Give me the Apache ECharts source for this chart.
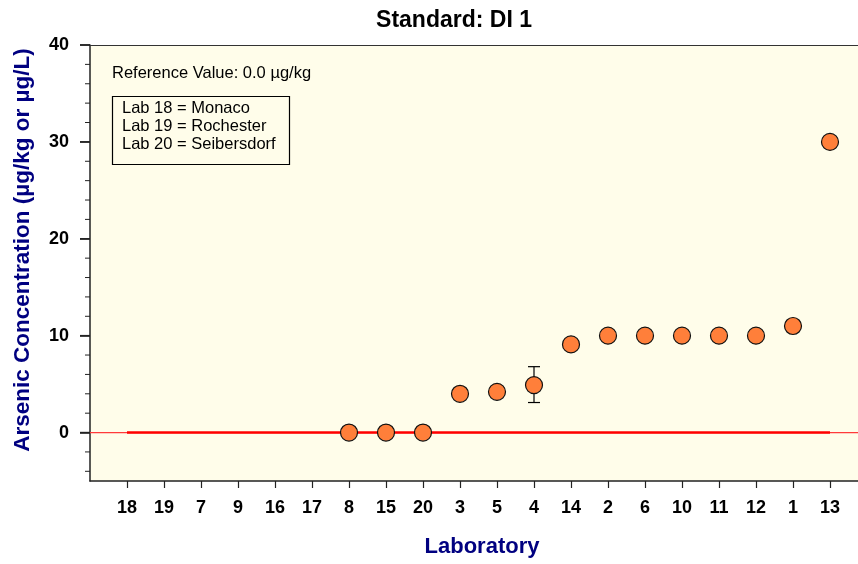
<!DOCTYPE html>
<html><head><meta charset="utf-8">
<script src="https://cdn.jsdelivr.net/npm/echarts@6/dist/echarts.min.js"></script>
<style>html,body{margin:0;padding:0;background:#fff}#c{width:858px;height:564px}</style>
</head><body><div id="c"></div>
<script>
const labs = ['18','19','7','9','16','17','8','15','20','3','5','4','14','2','6','10','11','12','1','13'];
const values = [null,null,null,null,null,null,0,0,0,4.0,4.2,4.9,9.1,10,10,10,10,10,11,30];
const errLow = [null,null,null,null,null,null,null,null,null,null,null,3.1,null,null,null,null,null,null,null,null];
const errHigh = [null,null,null,null,null,null,null,null,null,null,null,6.8,null,null,null,null,null,null,null,null];
const referenceValue = 0;
const yTicks = [0,10,20,30,40];
const yMinorTicks = [-4,-2,2,4,6,8,12,14,16,18,22,24,26,28,32,34,36,38];
const notes = ['Lab 18 = Monaco','Lab 19 = Rochester','Lab 20 = Seibersdorf'];

const pos = labs.map((_, i) => i + 1);
const points = [];
values.forEach((v, i) => { if (v !== null) points.push([pos[i], v]); });
const errs = [];
errLow.forEach((lo, i) => { if (lo !== null) errs.push([pos[i], lo, errHigh[i]]); });
const tickData = yTicks.map(v => [0, v, 10]).concat(yMinorTicks.map(v => [0, v, 5]));

const font = 'Liberation Sans, Arial, sans-serif';
const xMax = 768 / 37;
const chart = echarts.init(document.getElementById('c'));
chart.setOption({
  animation: false,
  backgroundColor: '#ffffff',
  title: { text: 'Standard: DI 1', left: 449, top: 4, textAlign: 'center',
    textStyle: { fontFamily: font, fontSize: 23, fontWeight: 'bold', color: '#000' } },
  grid: { left: 90, right: 0, top: 45, bottom: 83, show: true, backgroundColor: '#FFFDEA', borderWidth: 0 },
  xAxis: [{
    type: 'value', min: 0, max: xMax, interval: 1,
    axisLine: { onZero: false, lineStyle: { color: '#222', width: 1.5 } },
    axisTick: { show: true, length: 7, customValues: pos, lineStyle: { color: '#222', width: 1.2 } },
    axisLabel: { customValues: pos, margin: 18, fontFamily: font, fontSize: 18, fontWeight: 'bold', color: '#000',
      formatter: v => labs[Math.round(v) - 1] || '' },
    splitLine: { show: false },
    name: 'Laboratory', nameLocation: 'middle', nameGap: 55,
    nameTextStyle: { fontFamily: font, fontSize: 22, fontWeight: 'bold', color: '#000080', padding: [0, 0, 0, 16] }
  }, {
    type: 'value', position: 'top', min: 0, max: xMax,
    axisLine: { show: true, onZero: false, lineStyle: { color: '#333', width: 1.2 } },
    axisTick: { show: false }, axisLabel: { show: false }, splitLine: { show: false }
  }],
  yAxis: {
    type: 'value', min: -5, max: 40, position: 'left',
    axisLine: { show: true, onZero: false, lineStyle: { color: '#222', width: 1.5 } },
    axisTick: { show: true, length: 10, customValues: yTicks, lineStyle: { color: '#222', width: 1.5 } },
    axisLabel: { customValues: yTicks, margin: 21, fontFamily: font, fontSize: 18, fontWeight: 'bold', color: '#000' },
    splitLine: { show: false }
  },
  series: [
    { type: 'line', data: [[0, referenceValue], [xMax, referenceValue]], symbol: 'none',
      lineStyle: { color: '#ff3a3a', width: 1.2 }, z: 1 },
    { type: 'line', data: [[pos[0], referenceValue], [pos[pos.length-1], referenceValue]], symbol: 'none',
      lineStyle: { color: '#ff0000', width: 2.5 }, z: 2 },
    { type: 'custom', z: 10, clip: false, data: tickData,
      renderItem: (params, api) => {
        const p = api.coord([0, api.value(1)]);
        const len = api.value(2);
        return { type: 'line', shape: { x1: p[0] - len, y1: p[1], x2: p[0], y2: p[1] },
          style: { stroke: '#222', lineWidth: len > 6 ? 1.5 : 1 } };
      } },
    { type: 'custom', z: 3, data: errs,
      renderItem: (params, api) => {
        const x = api.value(0);
        const lo = api.coord([x, api.value(1)]);
        const hi = api.coord([x, api.value(2)]);
        const w = 6;
        const st = { stroke: '#000', lineWidth: 1.2 };
        return { type: 'group', children: [
          { type: 'line', shape: { x1: lo[0], y1: lo[1], x2: hi[0], y2: hi[1] }, style: st },
          { type: 'line', shape: { x1: lo[0]-w, y1: lo[1], x2: lo[0]+w, y2: lo[1] }, style: st },
          { type: 'line', shape: { x1: hi[0]-w, y1: hi[1], x2: hi[0]+w, y2: hi[1] }, style: st }
        ]};
      } },
    { type: 'scatter', data: points, symbol: 'circle', symbolSize: 17, z: 4,
      itemStyle: { color: '#FF7F3A', borderColor: '#111', borderWidth: 1.2, opacity: 1 } }
  ],
  graphic: [
    { type: 'text', x: 23, y: 250, rotation: Math.PI / 2,
      style: { text: 'Arsenic Concentration (µg/kg or µg/L)', font: 'bold 22.5px ' + font, fill: '#000080',
        textAlign: 'center', textVerticalAlign: 'middle' } },
    { type: 'text', left: 112, top: 65, style: { text: 'Reference Value: 0.0 µg/kg', font: '16.5px ' + font, fill: '#000' } },
    { type: 'rect', shape: { x: 112.5, y: 96.5, width: 177, height: 68 }, style: { fill: 'rgba(0,0,0,0)', stroke: '#000', lineWidth: 1.2 } },
    { type: 'text', left: 122, top: 100, style: { text: notes.join('\n'), font: '16.5px ' + font, lineHeight: 17.8, fill: '#000' } }
  ]
});
</script></body></html>
